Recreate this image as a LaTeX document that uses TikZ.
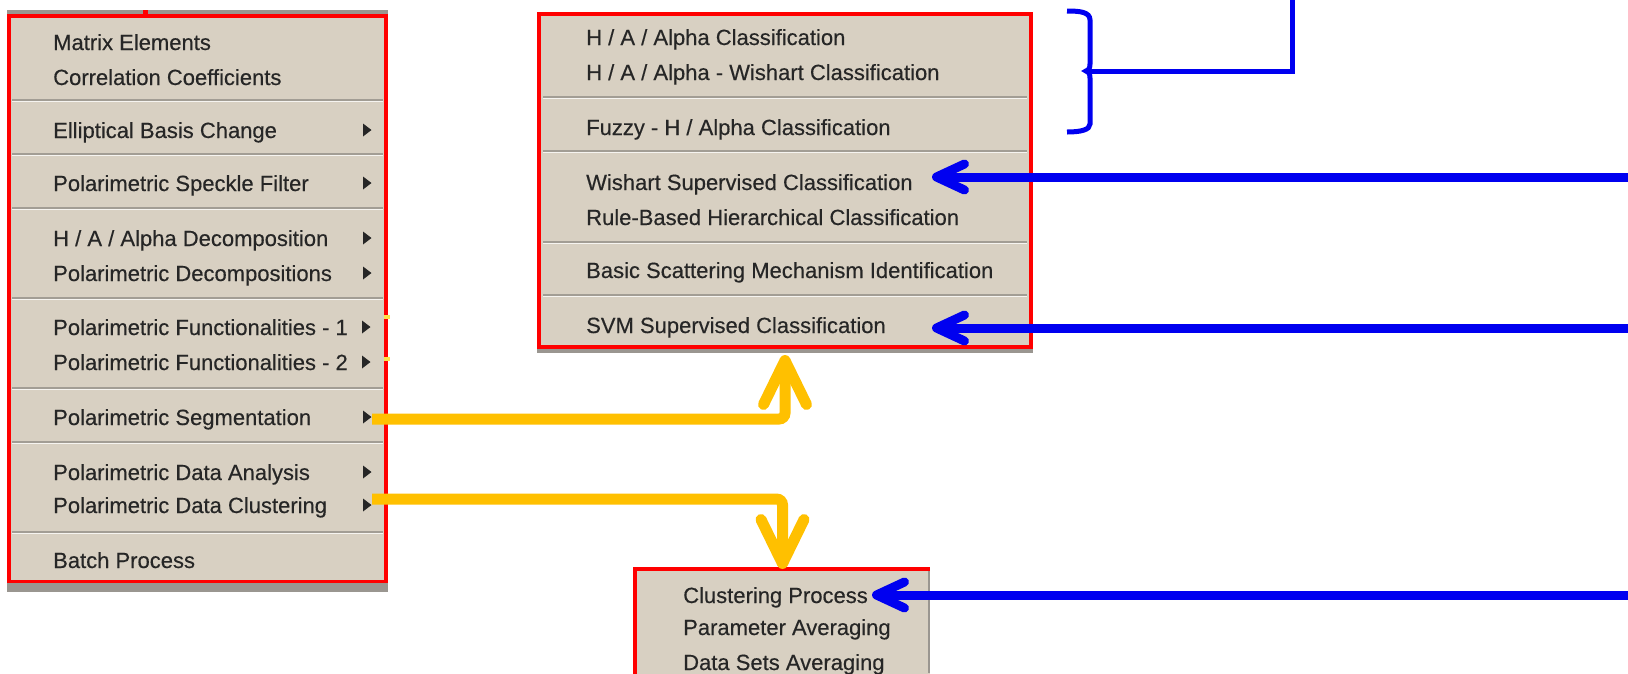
\documentclass[tikz,border=0pt]{standalone}
\usepackage{fontspec}
\setmainfont{Liberation Sans}
\newfontfamily\menufont{Liberation Sans}[FakeBold=0.35]
\usetikzlibrary{arrows.meta}

\definecolor{menubg}{HTML}{D8D0C2}
\definecolor{sepdark}{HTML}{A29D94}
\definecolor{seplight}{HTML}{F6F4F0}
\definecolor{shadowgray}{HTML}{9A9690}
\definecolor{itemtext}{HTML}{262626}
\definecolor{menured}{HTML}{FF0000}
\definecolor{arrowblue}{HTML}{0000F0}
\definecolor{arrowyellow}{HTML}{FFC000}
\definecolor{dotyellow}{HTML}{FFE34A}

% separator line of a menu: from x=#1 to x=#2 at y=#3
\newcommand\menusep[3]{%
  \draw[sepdark, line width=1.6pt] (#1,#3) -- (#2,#3);
  \draw[seplight, line width=1.6pt] (#1,#3+1.6) -- (#2,#3+1.6);}
% small submenu triangle at x=#1, centred on y=#2
\newcommand\submark[2]{%
  \fill[black!85] (#1,#2-6.5) -- (#1+8.5,#2) -- (#1,#2+6.5) -- cycle;}

\tikzset{
  menuitem/.style={anchor=base west, inner sep=0pt, text=itemtext,
    font=\menufont\fontsize{22}{26}\selectfont},
  menuframe/.style={draw=menured, line width=3.5pt, fill=menubg,
    anchor=north west, inner sep=0pt, outer sep=0pt},
  yellowline/.style={draw=arrowyellow, line width=11pt, rounded corners=6pt,
    -{Straight Barb[length=44pt, width=43pt, round]}},
  blueline/.style={draw=arrowblue, line width=9pt,
    -{Straight Barb[length=28pt, width=26pt, round]}},
  braceline/.style={draw=arrowblue, line width=5pt},
}

\begin{document}
\begin{tikzpicture}[x=1pt, y=-1pt]
\useasboundingbox (0,0) rectangle (1628,673);
\fill[white] (0,0) rectangle (1628,673);

% ---------- main menu ----------
\fill[shadowgray] (7,10) rectangle (388,592);
\node[menuframe, minimum width=377pt, minimum height=565.5pt] (left) at (8.8,15.8) {};
\fill[menured] (143,10) rectangle (148,16);

\node[menuitem] (l1)  at (53,42+8)  {Matrix Elements};
\node[menuitem] (l2)  at (53,77+8)  {Correlation Coefficients};
\menusep{12}{383}{100}
\node[menuitem] (l3)  at (53,130+8) {Elliptical Basis Change};
\menusep{12}{383}{154}
\node[menuitem] (l4)  at (53,183+8) {Polarimetric Speckle Filter};
\menusep{12}{383}{208}
\node[menuitem] (l5)  at (53,238+8) {H / A / Alpha Decomposition};
\node[menuitem] (l6)  at (53,273+8) {Polarimetric Decompositions};
\menusep{12}{383}{298}
\node[menuitem] (l7)  at (53,327+8) {Polarimetric Functionalities - 1};
\node[menuitem] (l8)  at (53,362+8) {Polarimetric Functionalities - 2};
\menusep{12}{383}{388}
\node[menuitem] (l9)  at (53,417+8) {Polarimetric Segmentation};
\menusep{12}{383}{442}
\node[menuitem] (l10) at (53,472+8) {Polarimetric Data Analysis};
\node[menuitem] (l11) at (53,505+8) {Polarimetric Data Clustering};
\menusep{12}{383}{532}
\node[menuitem] (l12) at (53,560+8) {Batch Process};

\submark{363}{130}
\submark{363}{183}
\submark{363}{238}
\submark{363}{273}
\submark{362}{327}
\submark{362}{362}
\submark{363}{417}
\submark{363}{472}
\submark{363}{505}
\fill[dotyellow] (384,315) rectangle (390,319);
\fill[dotyellow] (384,357) rectangle (390,361);

% ---------- classification submenu ----------
\fill[shadowgray] (537,12) rectangle (1033,353);
\node[menuframe, minimum width=492pt, minimum height=333pt] (mid) at (539,14) {};

\node[menuitem] (m1) at (586,37+8)  {H / A / Alpha Classification};
\node[menuitem] (m2) at (586,72+8)  {H / A / Alpha - Wishart Classification};
\menusep{543}{1027}{97}
\node[menuitem] (m3) at (586,127+8) {Fuzzy - H / Alpha Classification};
\menusep{543}{1027}{151}
\node[menuitem] (m4) at (586,182+8) {Wishart Supervised Classification};
\node[menuitem] (m5) at (586,217+8) {Rule-Based Hierarchical Classification};
\menusep{543}{1027}{242}
\node[menuitem] (m6) at (586,270+8) {Basic Scattering Mechanism Identification};
\menusep{543}{1027}{295}
\node[menuitem] (m7) at (586,325+8) {SVM Supervised Classification};

% ---------- clustering submenu ----------
\node[fill=menubg, anchor=north west, inner sep=0pt, outer sep=0pt,
      minimum width=295pt, minimum height=120pt] (bot) at (635,569) {};
\draw[shadowgray, line width=2pt] (929,569) -- (929,673);
\draw[menured, line width=3.5pt] (bot.south west) -- (bot.north west) -- (bot.north east);

\node[menuitem] (b1) at (683,595+8) {Clustering Process};
\node[menuitem] (b2) at (683,627+8) {Parameter Averaging};
\node[menuitem] (b3) at (683,662+8) {Data Sets Averaging};

% ---------- connectors ----------
\coordinate (segout) at (372,419);
\coordinate (cluout) at (372,499);
\draw[yellowline] (segout) -| ([yshift=-8pt]mid.south);
\draw[yellowline] (cluout) -| (bot.north);

\coordinate (wishsrc) at (1628,177);
\coordinate (wishtip) at (932,177);
\coordinate (svmsrc)  at (1628,328);
\coordinate (svmtip)  at (932,328);
\coordinate (clusrc)  at (1628,595);
\coordinate (clutip)  at (872,595);
\draw[blueline] (wishsrc) -- (wishtip);
\draw[blueline] (svmsrc) -- (svmtip);
\draw[blueline] (clusrc) -- (clutip);

% brace grouping the first three classifications
\coordinate (bracetip) at (1086,71);
\coordinate (braceup)  at (1292,0);
\draw[braceline] (1067,11) .. controls (1080,11) and (1090,12) .. (1090,20)
  -- (1090,64) .. controls (1090,69) and (1088,71) .. (bracetip)
  .. controls (1088,71) and (1090,73) .. (1090,78)
  -- (1090,124) .. controls (1090,130) and (1080,132) .. (1067,132);
\draw[braceline] (bracetip) -| (braceup);
\end{tikzpicture}
\end{document}
